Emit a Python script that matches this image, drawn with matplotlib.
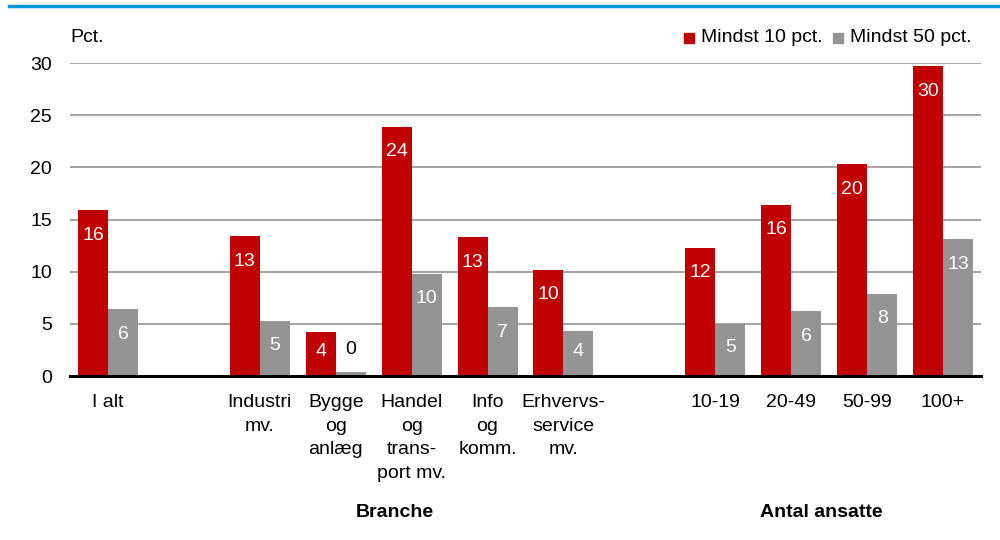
import matplotlib
matplotlib.use("Agg")
import matplotlib.pyplot as plt
from matplotlib.patches import Rectangle
import matplotlib.lines as mlines

plt.rcParams['font.family'] = ['Liberation Sans Narrow', 'Liberation Sans', 'DejaVu Sans']

categories = ["I alt", "", "Industri\nmv.", "Bygge\nog\nanlæg", "Handel\nog\ntrans-\nport mv.",
              "Info\nog\nkomm.", "Erhvervs-\nservice\nmv.", "", "10-19", "20-49", "50-99", "100+"]
mindst10 = [15.9, None, 13.4, 4.2, 23.9, 13.3, 10.2, None, 12.3, 16.4, 20.3, 29.7]
mindst50 = [6.4, None, 5.3, 0.4, 9.8, 6.6, 4.3, None, 5.0, 6.2, 7.9, 13.1]
series_names = ["Mindst 10 pct.", "Mindst 50 pct."]
group_labels = ["Branche", "Antal ansatte"]
yticks = [0, 5, 10, 15, 20, 25, 30]

RED = "#C00000"
GRAY = "#949494"
FS = 14

fig = plt.figure(figsize=(10, 5.4), dpi=100)
ax = fig.add_axes([0.07, 0.3037, 0.911, 0.5796])

bw = 0.395
xs = list(range(len(categories)))
for series, col, off in [(mindst10, RED, -bw / 2), (mindst50, GRAY, bw / 2)]:
    px = [x + off for x, v in zip(xs, series) if v is not None]
    pv = [v for v in series if v is not None]
    bars = ax.bar(px, pv, width=bw, color=col, zorder=3)
    for b, v in zip(bars, pv):
        cx = b.get_x() + b.get_width() / 2
        hpx = v * 313 / 30
        if v < 1:
            ax.annotate(f"{round(v):d}", (cx, v), xytext=(0, 14), textcoords="offset pixels",
                        ha="center", va="bottom", fontsize=FS, color="black", zorder=4)
        else:
            off_px = min(25, hpx * 0.45)
            ax.annotate(f"{round(v):d}", (cx, v), xytext=(0, -off_px), textcoords="offset pixels",
                        ha="center", va="center", fontsize=FS, color="white", zorder=4)

ax.set_xlim(-0.5, len(categories) - 0.5)
ax.set_ylim(0, 30)
ax.set_yticks(yticks)
ax.set_yticklabels([str(t) for t in yticks], fontsize=FS)
ax.set_xticks(xs)
ax.set_xticklabels(categories, fontsize=FS, linespacing=1.5, va="top")
ax.tick_params(axis="both", length=0)
ax.tick_params(axis="y", pad=13)
ax.tick_params(axis="x", pad=13)
for s in ["top", "right", "left"]:
    ax.spines[s].set_visible(False)
ax.spines["bottom"].set_linewidth(2.2)
ax.spines["bottom"].set_color("black")
ax.spines["bottom"].set_zorder(5)
ax.grid(axis="y", color="#A6A6A6", linewidth=1.5, zorder=0)
ax.set_axisbelow(True)

# group labels
ax.text(3.78, -0.435, group_labels[0], transform=ax.get_xaxis_transform(), ha="center", va="center",
        fontsize=FS, fontweight="bold")
ax.text(9.39, -0.435, group_labels[1], transform=ax.get_xaxis_transform(), ha="center", va="center",
        fontsize=FS, fontweight="bold")

# Pct. label
fig.text(0.070, 1 - 38 / 540, "Pct.", ha="left", va="center", fontsize=FS)

# legend
for sx, tx, col, name in [(0.689, 0.701, RED, series_names[0]), (0.838, 0.850, GRAY, series_names[1])]:
    fig.patches.append(Rectangle((sx - 0.005, 1 - 43 / 540), 0.010, 10 / 540, transform=fig.transFigure,
                                 color=col))
    fig.text(tx, 1 - 38 / 540, name, ha="left", va="center", fontsize=FS)

# top blue line
fig.add_artist(mlines.Line2D([0.009, 1.0], [1 - 5.5 / 540, 1 - 5.5 / 540], color="#0095D9", linewidth=2.5,
                             transform=fig.transFigure))

fig.savefig("out.png", dpi=100)
